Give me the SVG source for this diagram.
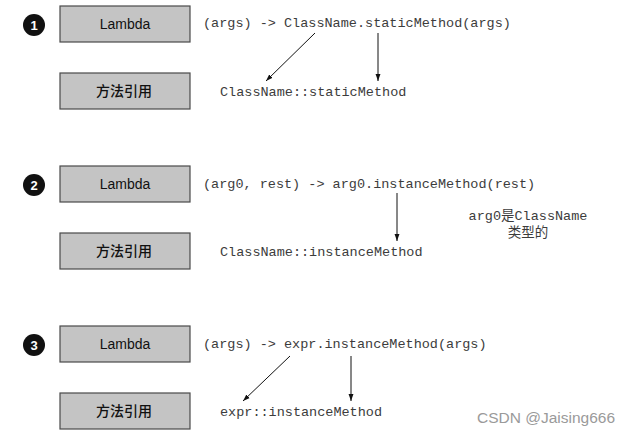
<svg xmlns="http://www.w3.org/2000/svg" width="629" height="438" viewBox="0 0 629 438">
<style>
.box{fill:#c4c4c4;stroke:#4a4a4a;stroke-width:1.2}
.bt{font-family:"Liberation Sans",Arial,sans-serif;font-size:14px;fill:#111;text-anchor:middle}
.ct{font-family:"Noto Sans CJK SC",sans-serif;font-size:14px;font-weight:500;fill:#111;text-anchor:middle}
.num{font-family:"Liberation Sans",Arial,sans-serif;font-size:13px;font-weight:bold;fill:#fff;text-anchor:middle}
.code{font-family:"Liberation Mono","Courier New",monospace;font-size:13.5px;fill:#3c3c3c}
.cjk{font-family:"Liberation Mono","Courier New","Noto Sans CJK SC",monospace;font-size:13.5px;fill:#3c3c3c}
.ar{stroke:#111;stroke-width:1;fill:none;marker-end:url(#ah)}
</style>
<defs>
<marker id="ah" viewBox="0 0 10 10" refX="10" refY="5" markerWidth="7" markerHeight="7" orient="auto" markerUnits="userSpaceOnUse">
<path d="M0,1.5 L10,5 L0,8.5 z" fill="#111"/>
</marker>
</defs>
<rect width="629" height="438" fill="#fff"/>

<g id="s1">
<circle cx="34" cy="25" r="11" fill="#111"/>
<text class="num" x="34" y="29.5">1</text>
</g>
<g id="lambda1">
<rect class="box" x="60" y="6" width="130" height="36"/>
<text class="bt" x="125" y="29">Lambda</text>
</g>
<g id="ref1">
<rect class="box" x="60" y="73" width="130" height="36"/>
<text class="ct" x="124" y="96">方法引用</text>
</g>
<g id="code1">
<text class="code" x="203" y="27">(args) -&gt; ClassName.staticMethod(args)</text>
<text class="code" x="220" y="96">ClassName::staticMethod</text>
</g>

<g id="s2">
<circle cx="34" cy="185" r="11" fill="#111"/>
<text class="num" x="34" y="189.5">2</text>
</g>
<g id="lambda2">
<rect class="box" x="60" y="166" width="130" height="36"/>
<text class="bt" x="125" y="189">Lambda</text>
</g>
<g id="ref2">
<rect class="box" x="60" y="233" width="130" height="36"/>
<text class="ct" x="124" y="256">方法引用</text>
</g>
<g id="code2">
<text class="code" x="203" y="188">(arg0, rest) -&gt; arg0.instanceMethod(rest)</text>
<text class="code" x="220" y="256">ClassName::instanceMethod</text>
<text class="cjk" x="528" y="220" text-anchor="middle">arg0是ClassName</text>
<text class="cjk" x="528" y="237" text-anchor="middle">类型的</text>
</g>

<g id="s3">
<circle cx="34" cy="345" r="11" fill="#111"/>
<text class="num" x="34" y="349.5">3</text>
</g>
<g id="lambda3">
<rect class="box" x="60" y="326" width="130" height="36"/>
<text class="bt" x="125" y="349">Lambda</text>
</g>
<g id="ref3">
<rect class="box" x="60" y="393" width="130" height="36"/>
<text class="ct" x="124" y="416">方法引用</text>
</g>
<g id="code3">
<text class="code" x="203" y="348">(args) -&gt; expr.instanceMethod(args)</text>
<text class="code" x="220" y="416">expr::instanceMethod</text>
</g>

<g id="connectors">
<line class="ar" x1="315" y1="33" x2="266" y2="81"/>
<line class="ar" x1="378" y1="33" x2="378" y2="81"/>
<line class="ar" x1="397" y1="193" x2="397" y2="241"/>
<line class="ar" x1="290" y1="356" x2="243" y2="401"/>
<line class="ar" x1="351" y1="356" x2="351" y2="401"/>
</g>

<text x="477" y="423" font-family="Liberation Sans,Arial,sans-serif" font-size="15.5" fill="#9a9a9a">CSDN @Jaising666</text>
</svg>
